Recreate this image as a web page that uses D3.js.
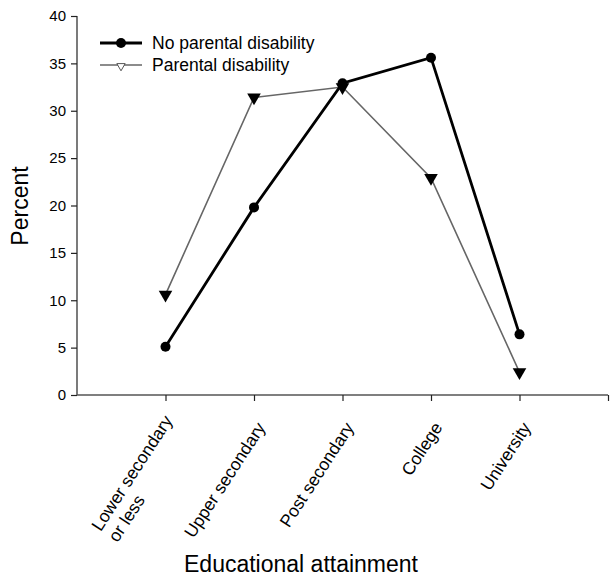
<!DOCTYPE html>
<html><head><meta charset="utf-8">
<script src="https://cdn.jsdelivr.net/npm/d3@7"></script>
<style>body{margin:0;background:#fff}svg{display:block}text{font-family:"Liberation Sans",Arial,sans-serif}</style>
</head><body><svg id="c" width="610" height="585"></svg>
<script>
const categories = [["Lower secondary","or less"],["Upper secondary"],["Post secondary"],["College"],["University"]];
const noParental = [5.1, 19.8, 32.9, 35.6, 6.4];
const parental = [10.6, 31.4, 32.5, 22.9, 2.4];
const yTicks = [0,5,10,15,20,25,30,35,40];
const seriesNames = ["No parental disability","Parental disability"];

const svg = d3.select("#c");
const x = d3.scaleLinear().domain([0,6]).range([77,608]);
const y = d3.scaleLinear().domain([0,40]).range([395,16]);

// y axis
const ya = svg.append("g").attr("transform","translate(77,0)")
  .call(d3.axisLeft(y).tickValues(yTicks).tickSize(6).tickPadding(5));
ya.selectAll("text").attr("font-size",15).attr("fill","#000").style("font-family","Liberation Sans, Arial");
ya.selectAll("line,path").attr("stroke","#222").attr("stroke-width",1.2);
ya.select(".domain").attr("d","M0,395V16");

// x axis
const xa = svg.append("g").attr("transform","translate(0,395)")
  .call(d3.axisBottom(x).tickValues([1,2,3,4,5,6]).tickSize(6).tickFormat(""));
xa.selectAll("line").attr("stroke","#222").attr("stroke-width",1.2);
xa.select(".domain").attr("d","M77,0H608").attr("stroke","#555").attr("stroke-width",1.5);

// category labels
categories.forEach((lines,i)=>{
  const g = svg.append("g").attr("transform",`translate(${x(i+1)+7},${lines.length>1?420:424}) rotate(-57)`);
  const t1 = g.append("text").attr("text-anchor","end").attr("font-size",17.5).attr("fill","#000")
    .attr("dy", lines.length>1 ? "0.05em" : "0.35em").text(lines[0]);
  if (lines.length>1) {
    const L = t1.node().getComputedTextLength();
    g.append("text").attr("text-anchor","start").attr("font-size",17.5).attr("fill","#000")
      .attr("x",-L).attr("dy","1.2em").text(lines[1]);
  }
});

// axis titles
svg.append("text").attr("transform","translate(28,206) rotate(-90)").attr("text-anchor","middle")
  .attr("font-size",23).attr("fill","#000").text("Percent");
svg.append("text").attr("x",301).attr("y",572).attr("text-anchor","middle")
  .attr("font-size",23).attr("fill","#000").text("Educational attainment");

const line = d3.line().x((d,i)=>x(i+1)).y(d=>y(d));
const tri = d3.symbol().type(d3.symbolTriangle).size(80);

// parental series
svg.append("path").datum(parental).attr("d",line).attr("fill","none")
  .attr("stroke","#666").attr("stroke-width",1.6);
svg.selectAll(".tri").data(parental).enter().append("path")
  .attr("d",tri).attr("transform",(d,i)=>`translate(${x(i+1)},${y(d)}) rotate(180)`).attr("fill","#000");

// no-parental series
svg.append("path").datum(noParental).attr("d",line).attr("fill","none")
  .attr("stroke","#000").attr("stroke-width",2.8);
svg.selectAll(".dot").data(noParental).enter().append("circle")
  .attr("cx",(d,i)=>x(i+1)).attr("cy",d=>y(d)).attr("r",5).attr("fill","#000");

// legend
const lg = svg.append("g");
lg.append("line").attr("x1",100).attr("x2",142).attr("y1",43).attr("y2",43).attr("stroke","#000").attr("stroke-width",2.8);
lg.append("circle").attr("cx",121).attr("cy",43).attr("r",5).attr("fill","#000");
lg.append("text").attr("x",152).attr("y",49).attr("font-size",17.5).attr("fill","#000").text(seriesNames[0]);
lg.append("line").attr("x1",100).attr("x2",142).attr("y1",65).attr("y2",65).attr("stroke","#666").attr("stroke-width",1.6);
lg.append("path").attr("d",d3.symbol().type(d3.symbolTriangle).size(30)).attr("transform","translate(121,66) rotate(180)")
  .attr("fill","#fff").attr("stroke","#555").attr("stroke-width",1);
lg.append("text").attr("x",152).attr("y",71).attr("font-size",17.5).attr("fill","#000").text(seriesNames[1]);
</script></body></html>
